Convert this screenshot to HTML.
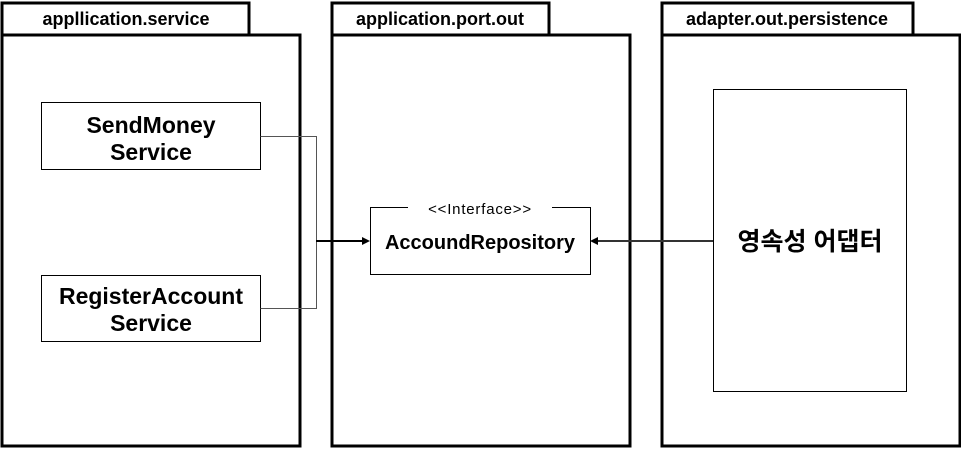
<!DOCTYPE html>
<html><head><style>body{margin:0;background:#fff}svg{display:block}</style></head><body>
<svg width="961" height="449" xmlns="http://www.w3.org/2000/svg" font-family="'Liberation Sans','Noto Sans CJK KR',sans-serif">
<g fill="#fff" stroke="#000" stroke-width="3">
<rect x="2" y="3" width="247" height="32"/>
<rect x="2" y="35" width="298" height="411"/>
<rect x="332" y="3" width="217" height="32"/>
<rect x="332" y="35" width="298" height="411"/>
<rect x="662" y="3" width="251" height="32"/>
<rect x="662" y="35" width="298" height="411"/>
</g>
<g font-weight="bold" font-size="18" text-anchor="middle">
<text x="126" y="25">appllication.service</text>
<text x="440" y="25">application.port.out</text>
<text x="787" y="25">adapter.out.persistence</text>
</g>
<g fill="none" stroke="#000" stroke-width="1">
<rect x="41.5" y="102.5" width="219" height="67"/>
<rect x="41.5" y="275.5" width="219" height="66"/>
<path d="M260.5 136.5H316.5V308.5H260.5" stroke="#555"/>
<path d="M408 207.5H370.5V274.5H590.5V207.5H552"/>
<rect x="713.5" y="89.5" width="193" height="302"/>
</g>
<path d="M316 241H364" stroke="#000" stroke-width="2"/>
<path d="M370 241L362 237V245Z"/>
<path d="M713 241H596" stroke="#333" stroke-width="2"/>
<path d="M590 241L598 237V245Z"/>
<g font-weight="bold" font-size="23" text-anchor="middle">
<text x="151" y="133">SendMoney</text>
<text x="151" y="160">Service</text>
<text x="151" y="304">RegisterAccount</text>
<text x="151" y="331">Service</text>
<text x="480" y="249" font-size="20">AccoundRepository</text>
<text x="810" y="250" font-size="25">영속성 어댑터</text>
</g>
<text x="480" y="214" font-size="15" letter-spacing="0.8" text-anchor="middle">&lt;&lt;Interface&gt;&gt;</text>
</svg>
</body></html>
